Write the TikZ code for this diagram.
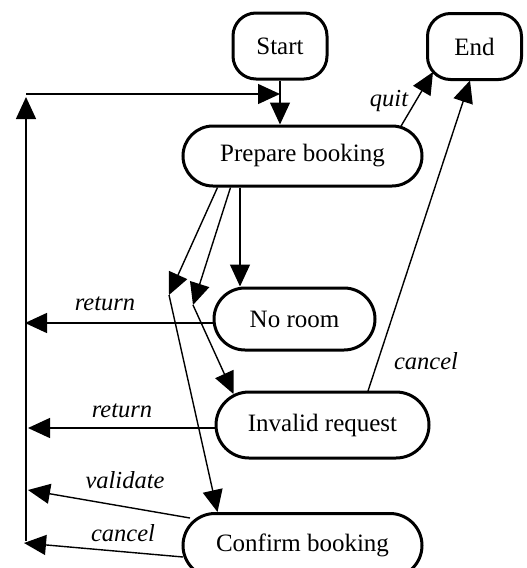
\documentclass[tikz,border=0pt]{standalone}
\usepackage{fontspec}
\setmainfont{Liberation Serif}
\usetikzlibrary{arrows.meta,calc}
\begin{document}
\begin{tikzpicture}[x=1pt,y=-1pt,
  state/.style={draw, line width=3pt, align=center, inner sep=0pt, font=\fontsize{25}{29}\selectfont},
  arr/.style={line width=1.4pt, -{Triangle[length=22pt,width=20pt]}},
  lbl/.style={font=\fontsize{24.5}{29}\selectfont\itshape, inner sep=0pt}]
\useasboundingbox (0,0) rectangle (527,568);
% states
\node[state, minimum width=94pt, minimum height=66pt, rounded corners=23pt] (start) at (280,46) {Start};
\node[state, minimum width=94pt, minimum height=66pt, rounded corners=23pt] (end) at (474.5,46.5) {End};
\node[state, minimum width=239pt, minimum height=60pt, rounded corners=30pt] (prep) at (302.5,156) {Prepare booking};
\node[state, minimum width=161pt, minimum height=62pt, rounded corners=31pt] (noroom) at (294.5,319) {No room};
\node[state, minimum width=213pt, minimum height=66pt, rounded corners=33pt] (invalid) at (322.5,425) {Invalid request};
\node[state, minimum width=239pt, minimum height=64pt, rounded corners=32pt] (confirm) at (302.5,545.5) {Confirm booking};
% free ends and junctions
\coordinate (lt) at (26,94);
\coordinate (lb) at (26,541);
\coordinate (j1) at (169,295);
\coordinate (j2) at (193,305);
\coordinate (r1) at (25,323);
\coordinate (r2) at (28,428);
\coordinate (r3) at (28,490);
\coordinate (r4) at (24,543);
% connectors
\draw[arr] (start.south) -- (start.south |- prep.north);
\draw[arr] (lt) -- (start.south |- lt);
\draw[arr] (lb) -- ([yshift=-3pt]lt);
\draw[arr] ([xshift=-62.5pt]prep.south) -- ([xshift=-62.5pt]prep.south |- noroom.north);
\draw[arr] ([xshift=-85pt]prep.south) -- (j1);
\draw[arr] ([xshift=-72pt]prep.south) -- (j2);
\draw[arr] (j1) -- ($(confirm.north)+(-85,0)$);
\draw[arr] (j2) -- ($(invalid.center)+(-89,-31)$);
\draw[arr] ($(prep.center)+(98,-29)$) -- ($(end.center)+(-41.5,25.5)$);
\draw[arr] ($(invalid.center)+(45.5,-34)$) -- ($(end.center)+(-4.5,34)$);
\draw[arr] (noroom.west |- r1) -- (r1);
\draw[arr] (invalid.west |- r2) -- (r2);
\draw[arr] ($(confirm.center)+(-112.5,-27.5)$) -- (r3);
\draw[arr] ($(confirm.center)+(-119.5,11.5)$) -- (r4);
% labels
\node[lbl] (lquit) at (389,101) {quit};
\node[lbl] (lcancel1) at (426,361) {cancel};
\node[lbl] (lret1) at (105,304) {return};
\node[lbl] (lret2) at (122,411) {return};
\node[lbl] (lval) at (125,480) {validate};
\node[lbl] (lcancel2) at (123,533) {cancel};
\end{tikzpicture}
\end{document}
